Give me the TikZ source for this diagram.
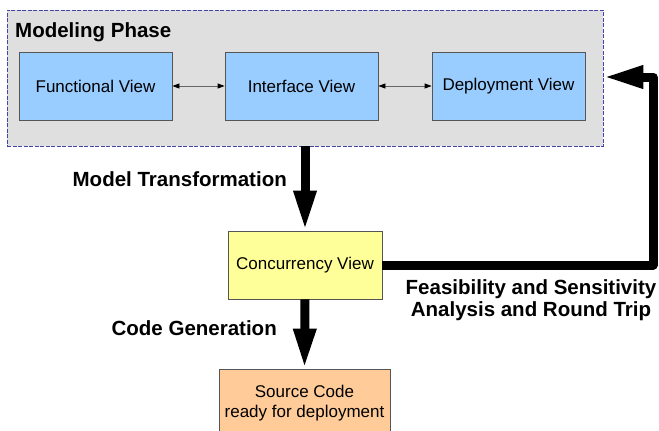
\documentclass[tikz,border=0pt]{standalone}
\usepackage{fontspec}
\setmainfont{Liberation Sans}
\usetikzlibrary{arrows.meta}
\definecolor{phasegray}{HTML}{DFDFDF}
\definecolor{phaseline}{HTML}{4444AA}
\definecolor{viewblue}{HTML}{99CCFF}
\definecolor{concyellow}{HTML}{FFFF99}
\definecolor{srcorange}{HTML}{FFCC99}
\definecolor{boxline}{HTML}{555555}
\tikzset{
  viewbox/.style={draw=boxline, line width=0.8pt, minimum width=153pt, minimum height=68pt, inner sep=0pt, font=\fontsize{17}{20}\selectfont},
  biglabel/.style={font=\fontsize{20.5}{23}\selectfont\bfseries, inner sep=0pt},
  bigarrow/.style={line width=9pt, -{Triangle[length=40pt,width=21pt]}},
  smallarrow/.style={draw=black!60, line width=0.8pt, {Triangle[length=7pt,width=5pt,fill=black,color=black]}-{Triangle[length=7pt,width=5pt,fill=black,color=black]}}
}
\begin{document}
\begin{tikzpicture}[x=1pt,y=-1pt]
\useasboundingbox (0,0) rectangle (659,431);
\node[draw=phaseline, dashed, dash pattern=on 4pt off 1.5pt, fill=phasegray, line width=0.6pt, minimum width=596pt, minimum height=136pt, inner sep=0pt] (mp) at (305,78) {};
\node[biglabel, anchor=west] (mptitle) at (15,32) {Modeling Phase};
\node[viewbox, fill=viewblue] (fv) at (95.5,86) {Functional View};
\node[viewbox, fill=viewblue] (iv) at (301.5,86) {Interface View};
\node[viewbox, fill=viewblue] (dv) at (508.5,86) {Deployment View};
\draw[smallarrow] (fv) -- (iv);
\draw[smallarrow] (iv) -- (dv);
\node[viewbox, fill=concyellow, minimum width=154pt] (cv) at (305,265) {Concurrency View};
\node[viewbox, fill=srcorange, minimum width=171pt, align=center, font=\fontsize{17}{20}\selectfont] (sc) at (304.5,403) {Source Code\\ready for deployment};
\draw[bigarrow] (mp.south -| cv.north) -- (cv.north);
\draw[bigarrow] (cv.south) -- (sc.north);
\coordinate (c1) at (653,265);
\coordinate (c2) at (653,77);
\draw[bigarrow, line join=round] (cv.east) -- (c1) -- (c2) -- (mp.east |- c2);
\node[biglabel, anchor=east] (mt) at (287,179) {Model Transformation};
\node[biglabel, anchor=east] (cg) at (277,328) {Code Generation};
\node[biglabel, align=center, font=\fontsize{20.5}{22}\selectfont\bfseries] (fs) at (531,300) {Feasibility and Sensitivity\\Analysis and Round Trip};
\end{tikzpicture}
\end{document}
